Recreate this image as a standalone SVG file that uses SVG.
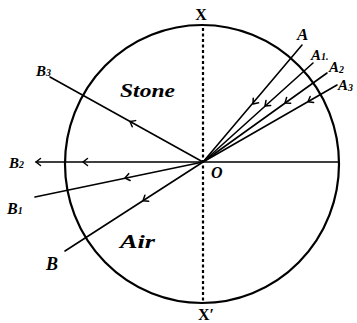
<svg xmlns="http://www.w3.org/2000/svg" width="357" height="323" viewBox="0 0 357 323">
<style>
.ray{stroke:#000;stroke-width:1.6;fill:none;stroke-linecap:round}
.chev{stroke:#000;stroke-width:1.5;fill:none;stroke-linecap:round;stroke-linejoin:round}
.lab{font-family:"Liberation Serif",serif;font-weight:bold;font-style:italic;fill:#000}
.up{font-family:"Liberation Serif",serif;font-weight:bold;fill:#000}
</style>
<defs>
<path id="ch" class="chev" d="M-4.5,-3.5 L0,0 L-4.5,3.5"/>
</defs>
<rect width="357" height="323" fill="#fff"/>
<g id="circle">
<ellipse cx="202" cy="164" rx="137" ry="139" fill="none" stroke="#000" stroke-width="2.2"/>
</g>
<g id="axis">
<line x1="203" y1="28" x2="203" y2="302" stroke="#000" stroke-width="2.2" stroke-dasharray="3,2.5"/>
</g>
<g id="connectors">
<line class="ray" x1="203" y1="162" x2="339" y2="162"/>
<line class="ray" x1="302" y1="45" x2="203" y2="162"/>
<line class="ray" x1="313" y1="63" x2="203" y2="162"/>
<line class="ray" x1="327" y1="73" x2="203" y2="162"/>
<line class="ray" x1="337" y1="85" x2="203" y2="162"/>
<line class="ray" x1="203" y1="162" x2="50" y2="77"/>
<line class="ray" x1="203" y1="162" x2="36" y2="162"/>
<line class="ray" x1="203" y1="162" x2="35" y2="197"/>
<line class="ray" x1="203" y1="162" x2="65" y2="251"/>
<use href="#ch" transform="translate(253,104) rotate(130.2)"/>
<use href="#ch" transform="translate(265,106) rotate(138)"/>
<use href="#ch" transform="translate(285,103) rotate(144.3)"/>
<use href="#ch" transform="translate(308,101.7) rotate(150.1)"/>
<use href="#ch" transform="translate(130,121.5) rotate(209.1)"/>
<use href="#ch" transform="translate(83,162) rotate(180)"/>
<use href="#ch" transform="translate(36,162) rotate(180)"/>
<use href="#ch" transform="translate(125,178) rotate(168.2)"/>
<use href="#ch" transform="translate(143,200.7) rotate(147.2)"/>
</g>
<g id="labels">
<text class="up" x="201" y="20" font-size="16" text-anchor="middle">X</text>
<text class="up" x="198" y="320" font-size="16">X′</text>
<text class="lab" x="211" y="178" font-size="16">O</text>
<text class="lab" x="120" y="97" font-size="19" textLength="55" lengthAdjust="spacingAndGlyphs">Stone</text>
<text class="lab" x="120" y="248" font-size="18" textLength="35" lengthAdjust="spacingAndGlyphs">Air</text>
<text class="lab" x="297" y="40" font-size="17">A</text>
<text class="lab" x="311" y="60" font-size="15">A<tspan font-size="10">1.</tspan></text>
<text class="lab" x="329" y="72" font-size="15">A<tspan font-size="10" dy="1">2</tspan></text>
<text class="lab" x="338" y="90" font-size="15">A<tspan font-size="10" dy="1">3</tspan></text>
<text class="lab" x="36" y="76" font-size="15">B<tspan font-size="10">3</tspan></text>
<text class="lab" x="9" y="168" font-size="15">B<tspan font-size="10">2</tspan></text>
<text class="lab" x="7" y="214" font-size="16">B<tspan font-size="10">1</tspan></text>
<text class="lab" x="46" y="270" font-size="18">B</text>
</g>
</svg>
